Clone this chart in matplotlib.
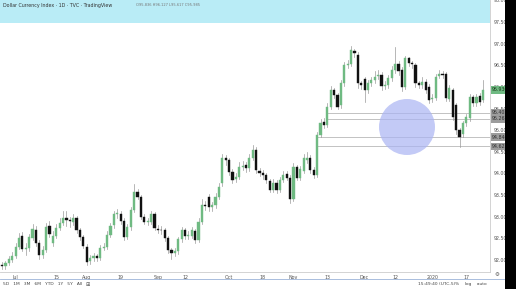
import matplotlib
matplotlib.use('Agg')
import matplotlib.pyplot as plt
from matplotlib.patches import Rectangle, Ellipse
from matplotlib.lines import Line2D

# daily candles
opens = [91.88, 91.86, 91.92, 92.00, 92.10, 92.30, 92.56, 92.25, 92.28, 92.50,
         92.70, 92.38, 92.12, 92.22, 92.78, 92.38, 92.55, 92.74, 92.86, 92.98,
         92.92, 92.88, 92.96, 92.68, 92.52, 92.30, 91.98, 92.04, 92.08, 92.05,
         92.28, 92.30, 92.58, 92.80, 93.05, 93.06, 92.90, 92.52, 92.76, 93.15,
         93.58, 93.46, 93.00, 92.88, 92.88, 93.05, 92.72, 92.70, 92.70, 92.50,
         92.22, 92.15, 92.20, 92.48, 92.68, 92.55, 92.55, 92.66, 92.46, 92.88,
         93.27, 93.45, 93.22, 93.26, 93.46, 93.77, 94.35, 94.30, 94.04, 93.88,
         93.92, 94.15, 94.20, 94.12, 94.35, 94.54, 94.05, 94.02, 93.96, 93.82,
         93.62, 93.78, 93.62, 93.85, 93.98, 93.90, 93.40, 94.15, 93.90, 94.05,
         94.30, 94.35, 94.08, 93.97, 94.89, 95.20, 95.12, 95.54, 95.93, 95.81,
         95.58, 96.08, 96.50, 96.53, 96.82, 96.74, 96.08, 96.18, 95.93, 96.08,
         96.15, 96.25, 96.28, 96.02, 96.05, 96.20, 96.39, 96.54, 96.40, 96.00,
         96.66, 96.55, 96.50, 96.08, 96.05, 96.12, 96.00, 95.72, 95.75, 96.26,
         96.30, 96.30, 95.73, 95.93, 95.58, 95.00, 94.90, 95.16, 95.28, 95.77,
         95.62, 95.80, 95.70]
closes = [91.86, 91.92, 92.02, 92.10, 92.30, 92.50, 92.25, 92.28, 92.52, 92.72,
          92.38, 92.12, 92.22, 92.76, 92.60, 92.55, 92.74, 92.86, 92.98, 92.92,
          92.90, 92.96, 92.68, 92.52, 92.32, 91.95, 92.04, 92.08, 92.05, 92.28,
          92.30, 92.58, 92.78, 93.05, 93.08, 92.90, 92.52, 92.76, 93.15, 93.58,
          93.46, 93.00, 92.88, 92.90, 93.05, 92.74, 92.70, 92.68, 92.50, 92.22,
          92.15, 92.20, 92.48, 92.68, 92.55, 92.57, 92.68, 92.46, 92.88, 93.27,
          93.24, 93.22, 93.26, 93.46, 93.69, 94.35, 94.30, 94.04, 93.85, 93.92,
          94.15, 94.18, 94.12, 94.35, 94.54, 94.08, 94.02, 93.96, 93.85, 93.62,
          93.78, 93.62, 93.85, 93.96, 93.90, 93.40, 94.15, 93.90, 94.10, 94.35,
          94.35, 94.08, 93.97, 94.89, 95.17, 95.12, 95.54, 95.93, 95.81, 95.54,
          96.08, 96.50, 96.53, 96.85, 96.78, 96.08, 96.05, 95.93, 96.08, 96.15,
          96.23, 96.28, 96.02, 96.05, 96.20, 96.39, 96.54, 96.36, 96.00, 96.66,
          96.55, 96.52, 96.08, 96.05, 96.12, 95.93, 95.70, 95.75, 96.24, 96.30,
          96.28, 95.75, 95.97, 95.31, 95.00, 94.85, 95.16, 95.31, 95.77, 95.62,
          95.77, 95.66, 95.93]
highs = [91.95, 91.98, 92.08, 92.18, 92.38, 92.62, 92.65, 92.40, 92.60, 92.82,
         92.78, 92.45, 92.32, 92.85, 92.90, 92.66, 92.82, 92.98, 93.14, 93.12,
         93.00, 93.06, 93.02, 92.74, 92.58, 92.36, 92.12, 92.16, 92.14, 92.34,
         92.40, 92.66, 92.86, 93.12, 93.18, 93.12, 92.96, 92.84, 93.22, 93.76,
         93.64, 93.50, 93.06, 92.98, 93.12, 93.10, 92.80, 92.78, 92.74, 92.56,
         92.28, 92.28, 92.54, 92.76, 92.74, 92.66, 92.76, 92.72, 92.96, 93.40,
         93.36, 93.52, 93.34, 93.54, 93.78, 94.45, 94.42, 94.36, 94.10, 94.02,
         94.26, 94.28, 94.26, 94.44, 94.66, 94.60, 94.12, 94.08, 94.02, 93.88,
         93.86, 93.84, 93.92, 94.06, 94.06, 93.96, 94.24, 94.20, 94.18, 94.44,
         94.50, 94.42, 94.14, 94.96, 95.26, 95.28, 95.62, 96.02, 95.98, 95.86,
         96.16, 96.58, 96.62, 96.94, 96.88, 96.80, 96.14, 96.24, 96.16, 96.24,
         96.36, 96.40, 96.34, 96.14, 96.28, 96.48, 96.92, 96.60, 96.46, 96.72,
         96.70, 96.60, 96.56, 96.14, 96.22, 96.18, 96.06, 95.84, 96.30, 96.38,
         96.36, 96.34, 96.04, 95.98, 95.62, 95.05, 95.22, 95.38, 95.84, 95.82,
         95.84, 95.86, 96.15]
lows = [91.80, 91.80, 91.88, 91.95, 92.05, 92.25, 92.20, 92.12, 92.20, 92.45,
        92.32, 92.02, 92.04, 92.18, 92.52, 92.32, 92.50, 92.70, 92.80, 92.78,
        92.75, 92.80, 92.62, 92.46, 92.28, 91.88, 91.90, 91.98, 91.98, 92.00,
        92.22, 92.25, 92.52, 92.74, 92.98, 92.84, 92.46, 92.48, 92.70, 93.10,
        93.40, 92.95, 92.82, 92.80, 92.82, 92.68, 92.62, 92.60, 92.44, 92.16,
        92.02, 92.08, 92.14, 92.42, 92.48, 92.48, 92.50, 92.40, 92.42, 92.84,
        93.16, 93.14, 93.14, 93.20, 93.40, 93.72, 94.20, 93.96, 93.78, 93.80,
        93.86, 94.08, 94.04, 94.06, 94.30, 94.02, 93.94, 93.88, 93.78, 93.56,
        93.56, 93.54, 93.58, 93.80, 93.84, 93.32, 93.36, 93.84, 93.84, 94.00,
        94.24, 94.02, 93.90, 93.92, 94.84, 95.06, 95.08, 95.48, 95.74, 95.48,
        95.52, 96.02, 96.44, 96.48, 96.70, 95.98, 95.96, 95.66, 95.86, 96.02,
        96.10, 96.18, 95.94, 95.96, 95.98, 96.14, 96.32, 96.28, 95.90, 95.96,
        96.48, 96.44, 96.00, 95.98, 95.98, 95.86, 95.62, 95.64, 95.70, 96.20,
        96.20, 95.68, 95.68, 95.24, 94.92, 94.62, 94.84, 95.10, 95.22, 95.56,
        95.56, 95.58, 95.64]

tick_labels = ['Jul', '15', 'Aug', '19', 'Sep', '12', 'Oct', '18', 'Nov', '13',
               'Dec', '12', '2020', '17']
tick_bars = [4, 16, 25, 35, 46, 54, 67, 77, 86, 96, 107, 116, 127, 137]

# horizontal levels drawn on the chart (value, bar where line starts)
levels = [95.405, 95.262, 94.840, 94.623]
level_start = [96, 96, 93, 93]

GREEN = '#6fba82'
BLACK = '#111111'

fig = plt.figure(figsize=(5.16, 2.89), dpi=100)
W, H = 516.0, 289.0
ax = fig.add_axes([0, 17 / H, 490 / W, 272 / H])

for i in range(len(opens)):
    o, c, h, l = opens[i], closes[i], highs[i], lows[i]
    col = GREEN if c >= o else BLACK
    ax.plot([i, i], [l, h], color='#9a9a9a', lw=0.5, zorder=2)
    ax.add_patch(Rectangle((i - 0.32, min(o, c)), 0.64, max(abs(c - o), 0.02),
                           facecolor=col, edgecolor=col, lw=0.3, zorder=3))

for v, s in zip(levels, level_start):
    ax.plot([s, 145], [v, v], color='#b8b8b8', lw=0.6, zorder=1)

ax.set_xlim(-0.6, 144)
ax.set_ylim(91.72, 98.01)
ax.set_xticks(tick_bars)
ax.set_xticklabels(tick_labels)
yt = [92 + 0.5 * k for k in range(13)]
ax.set_yticks(yt)
ax.set_yticklabels(['%.3f' % v for v in yt])
ax.yaxis.tick_right()
ax.tick_params(axis='both', length=0, labelsize=3.4, colors='#555555')
ax.tick_params(axis='y', pad=3)
ax.tick_params(axis='x', pad=2)
for sp in ['top', 'left']:
    ax.spines[sp].set_visible(False)
ax.spines['right'].set_color('#cccccc')
ax.spines['bottom'].set_color('#cccccc')
ax.spines['right'].set_linewidth(0.6)
ax.spines['bottom'].set_linewidth(0.6)

# price labels on the axis
def price_tag(v, bg, fg):
    ax.text(1.004, v, '%.3f' % v, transform=ax.get_yaxis_transform(),
            fontsize=3.4, color=fg, va='center', ha='left', clip_on=False,
            bbox=dict(boxstyle='square,pad=0.25', fc=bg, ec='none'), zorder=6)

for v in levels:
    price_tag(v, '#9c9c9c', '#303030')
price_tag(closes[-1], GREEN, '#1a3a1a')

# top banner
fig.add_artist(Rectangle((0, 1 - 23 / H), 490 / W, 23 / H, transform=fig.transFigure,
                         facecolor='#b9ecf6', edgecolor='none', zorder=5))
fig.text(3 / W, 1 - 5 / H, 'Dollar Currency Index · 1D · TVC · TradingView',
         fontsize=3.4, color='#333333', va='center', ha='left', zorder=6)
fig.text(136 / W, 1 - 5 / H, 'O95.836 H96.127 L95.617 C95.985',
         fontsize=2.6, color='#777777', va='center', ha='left', zorder=6)

# highlight circle
fig.add_artist(Ellipse((407 / W, 1 - 127 / H), 56 / W, 56 / H, transform=fig.transFigure,
                       facecolor='#aab4f3', edgecolor='none', alpha=0.7, zorder=5))

# right black strip
fig.add_artist(Rectangle((505 / W, 0), 11 / W, 1, transform=fig.transFigure,
                         facecolor='black', edgecolor='none', zorder=7))

# bottom toolbar
fig.add_artist(Line2D([0, 505 / W], [1 - 279 / H, 1 - 279 / H], transform=fig.transFigure,
                      color='#9bb3d8', lw=0.6))
fig.text(3 / W, 1 - 284 / H, '5D   1M   3M   6M   YTD   1Y   5Y   All',
         fontsize=3.2, color='#444444', va='center', ha='left')
fig.text(85 / W, 1 - 284 / H, '⊞', fontsize=3.6, color='#444444', va='center', ha='left')
fig.text(418 / W, 1 - 284 / H, '15:49:40 (UTC-5)', fontsize=3.2, color='#444444',
         va='center', ha='left')
fig.text(455 / W, 1 - 284 / H, '%    log    auto', fontsize=3.2, color='#444444',
         va='center', ha='left')
fig.text(497 / W, 1 - 274 / H, '⚙', fontsize=4, color='#555555', va='center', ha='center')

fig.savefig('out.png', dpi=100, facecolor='white')
